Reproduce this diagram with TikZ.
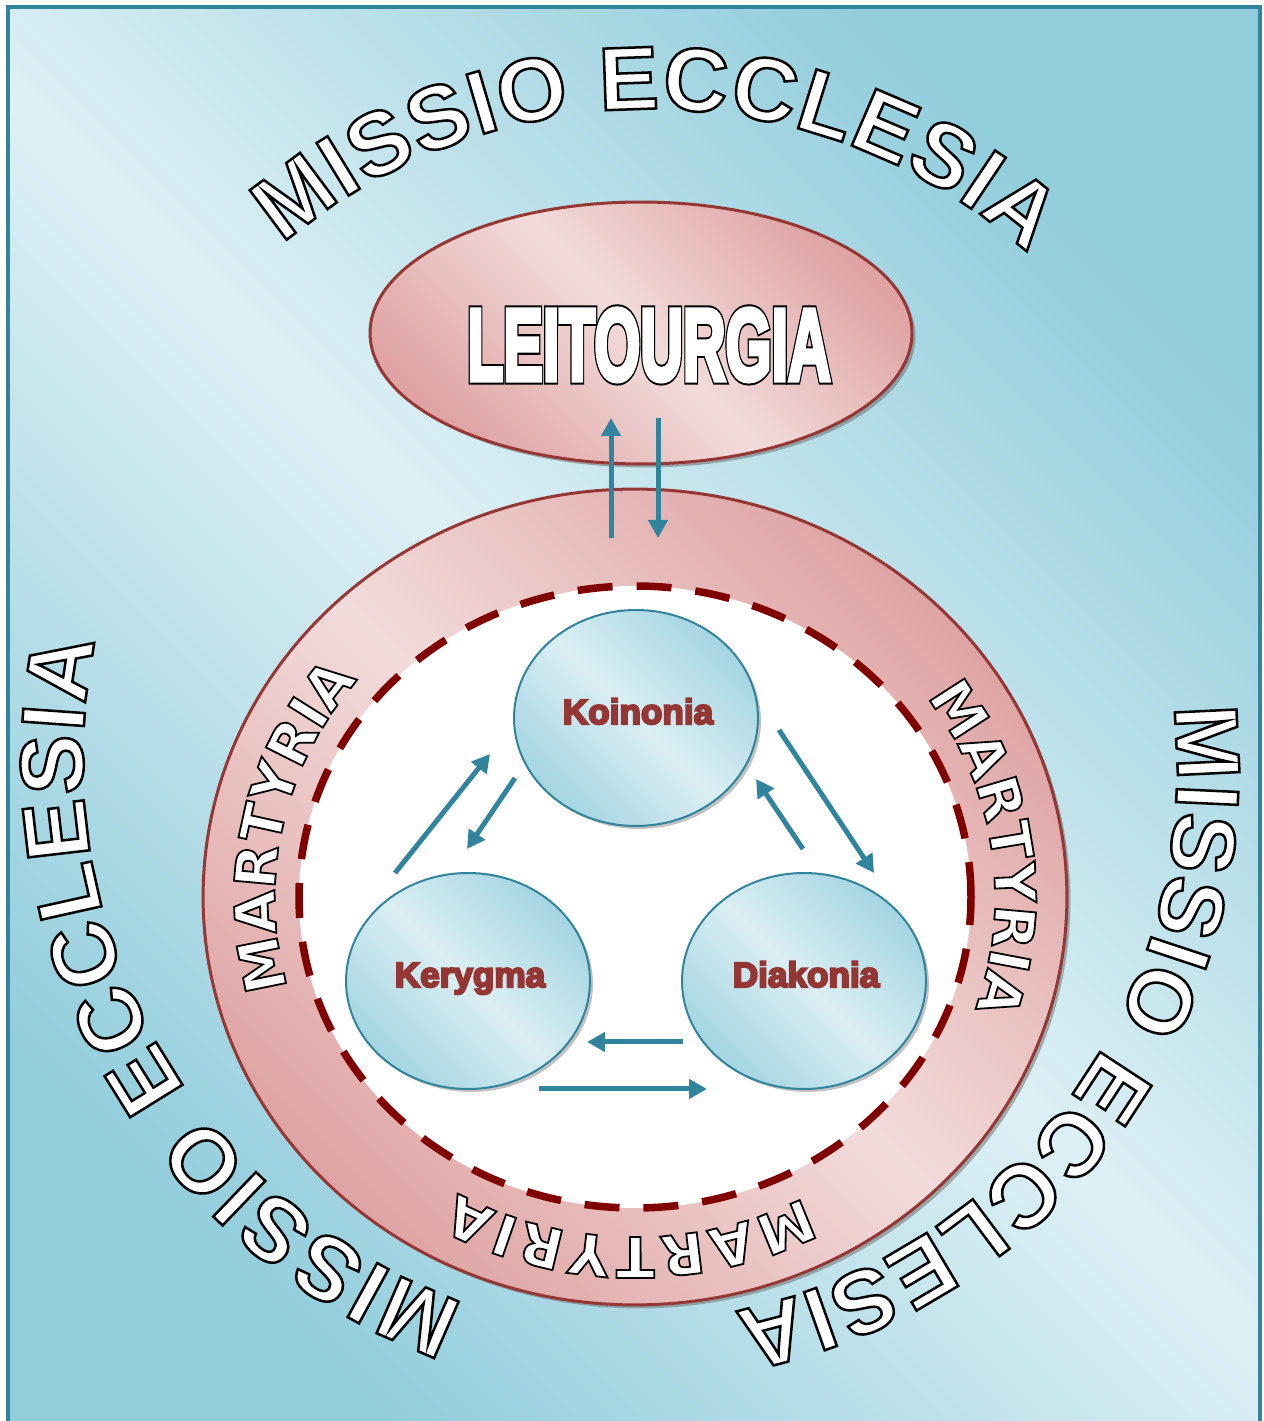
\documentclass[tikz,border=0pt]{standalone}
\usepackage{fontspec}
\setmainfont{Liberation Sans}
\newfontfamily\heavyfont{Liberation Sans}[FakeBold=6]
\newfontfamily\missiofont{Liberation Sans}[FakeBold=2.8]
\newfontfamily\ringrim{DejaVu Sans}[FakeBold=3.2]
\newfontfamily\leitblack{Liberation Sans}[FakeBold=9]
\newfontfamily\leitwhite{Liberation Sans}[FakeBold=5]
\usepackage{graphicx}
\usetikzlibrary{arrows.meta,positioning,calc,shapes.geometric,shadows,decorations.text}

\definecolor{bglight}{HTML}{DDF0F5}
\definecolor{bgdark}{HTML}{92CDDC}
\definecolor{frameteal}{HTML}{31849B}
\definecolor{pinklight}{HTML}{F2DCDB}
\definecolor{pinkdark}{HTML}{DFA3A3}
\definecolor{ringedge}{HTML}{953735}
\definecolor{dashred}{HTML}{800000}
\definecolor{balllight}{HTML}{DAEEF3}
\definecolor{balldark}{HTML}{A5D5E2}
\definecolor{tagred}{HTML}{943634}

% white letters, stroked black
\newcommand{\blackedge}{\special{pdf:literal direct 0 G}}
\newcommand{\bigfont}{\missiofont\bfseries\fontsize{51}{51}\selectfont\color{white}\blackedge}
\newcommand{\ringfont}{\ringrim\bfseries\fontsize{32}{32}\selectfont\color{white}\blackedge}
\newcommand{\leitword}[1]{\scalebox{0.58}[1]{#1\bfseries\fontsize{58}{58}\selectfont LEITOURGIA}}

\begin{document}
\begin{tikzpicture}[x=0.02cm, y=0.02cm, >=Latex,
    frame/.style={draw=frameteal, line width=0.08cm, top color=bgdark, bottom color=bgdark, middle color=bglight, shading angle=-45},
    orb/.style={ellipse, inner sep=0pt, draw=ringedge, line width=0.06cm, top color=pinkdark, bottom color=pinkdark, middle color=pinklight, shading angle=-45, drop shadow={shadow xshift=0.07cm, shadow yshift=-0.07cm, fill=black!60, opacity=0.5}},
    rim/.style={draw=dashred, fill=white, line width=0.15cm, dash pattern=on 0.7cm off 0.48cm},
    ball/.style={ellipse, inner sep=0pt, minimum width=4.88cm, minimum height=4.32cm, draw=frameteal, line width=0.04cm, top color=balldark, bottom color=balldark, middle color=balllight, shading angle=-45, drop shadow={shadow xshift=0.06cm, shadow yshift=-0.06cm, fill=black!60, opacity=0.4}},
    tag/.style={anchor=base, inner sep=0pt, text=tagred, font=\heavyfont\bfseries\fontsize{20}{24}\selectfont},
    flow/.style={draw=frameteal, line width=0.1cm, -{Triangle[length=0.36cm, width=0.38cm]}},
    lt/.style={anchor=base, inner sep=0pt, text=white},
    arctext/.style={decorate, decoration={text along path, text align=fit to path, text={#1}}}
]
\useasboundingbox (0,0) rectangle (1264,1421);
\clip (0,0) rectangle (1264,1421);
\path[frame] (8,-20) rectangle (1260,1414);

% ring, liturgy and the three circles
\node[orb, minimum width=17.28cm, minimum height=16.32cm] (ring) at (635,524) {};
\draw[rim] (ring.center) ellipse [x radius=336, y radius=311];
\node[orb, minimum width=10.84cm, minimum height=5.24cm] (leit) at (641,1088) {};

\node[ball] (koi) at (636,703) {};
\node[ball] (ker) at (468,440) {};
\node[ball] (dia) at (804,440) {};
\node[tag] (koit) at ([shift={(2,-6)}]koi.center) {Koinonia};
\node[tag] (kert) at ([shift={(2,-6)}]ker.center) {Kerygma};
\node[tag] (diat) at ([shift={(2,-6)}]dia.center) {Diakonia};

\draw[flow] ([shift={(-24,359)}]ring.center) -- ([shift={(-30,-85)}]leit.center);
\draw[flow] ([shift={(17,-85)}]leit.center) -- ([shift={(23,359)}]ring.center);
\draw[flow] ([shift={(-73,108)}]ker.center) -- ([shift={(-146,-36)}]koi.center);
\draw[flow] ([shift={(-121,-60)}]koi.center) -- ([shift={(-1,132)}]ker.center);
\draw[flow] ([shift={(143,-12)}]koi.center) -- ([shift={(70,108)}]dia.center);
\draw[flow] ([shift={(-1,132)}]dia.center) -- ([shift={(120,-61)}]koi.center);
\draw[flow] ([shift={(-121,-61)}]dia.center) -- ([shift={(119,-61)}]ker.center);
\draw[flow] ([shift={(71,-108)}]ker.center) -- ([shift={(-97,-108)}]dia.center);

% LEITOURGIA, black under white
\node[lt, text=black] (leitb) at ([shift={(8,-47)}]leit.center) {\leitword{\leitblack}};
\node[lt] (leitt) at ([shift={(8,-47)}]leit.center) {\leitword{\leitwhite}};

% MISSIO ECCLESIA round the page
\coordinate (topc) at (650,745);
\coordinate (lowc) at (660,661);
\coordinate (rightc) at (625,651);
\path[arctext={|\bigfont|MISSIO ECCLESIA}] ($(topc)+(130.4:567)$) arc[start angle=130.4, end angle=48.2, radius=567];
\path[arctext={|\bigfont|MISSIO ECCLESIA}] ($(lowc)+(250.2:577)$) arc[start angle=250.2, end angle=168.1, radius=577];
\path[arctext={|\bigfont|MISSIO ECCLESIA}] ($(rightc)+(6.6:552)$) arc[start angle=6.6, end angle=-78.6, radius=552];

% MARTYRIA in the ring
\path[arctext={|\ringfont|MARTYRIA}] ($(ring.center)+(195.5:360 and 340)$) arc[start angle=195.5, end angle=142, x radius=360, y radius=340];
\path[arctext={|\ringfont|MARTYRIA}] ($(ring.center)+(36:360 and 340)$) arc[start angle=36, end angle=-17, x radius=360, y radius=340];
\path[arctext={|\ringfont|MARTYRIA}] ($(ring.center)+(298:360 and 340)$) arc[start angle=298, end angle=240.5, x radius=360, y radius=340];
\end{tikzpicture}
\end{document}
